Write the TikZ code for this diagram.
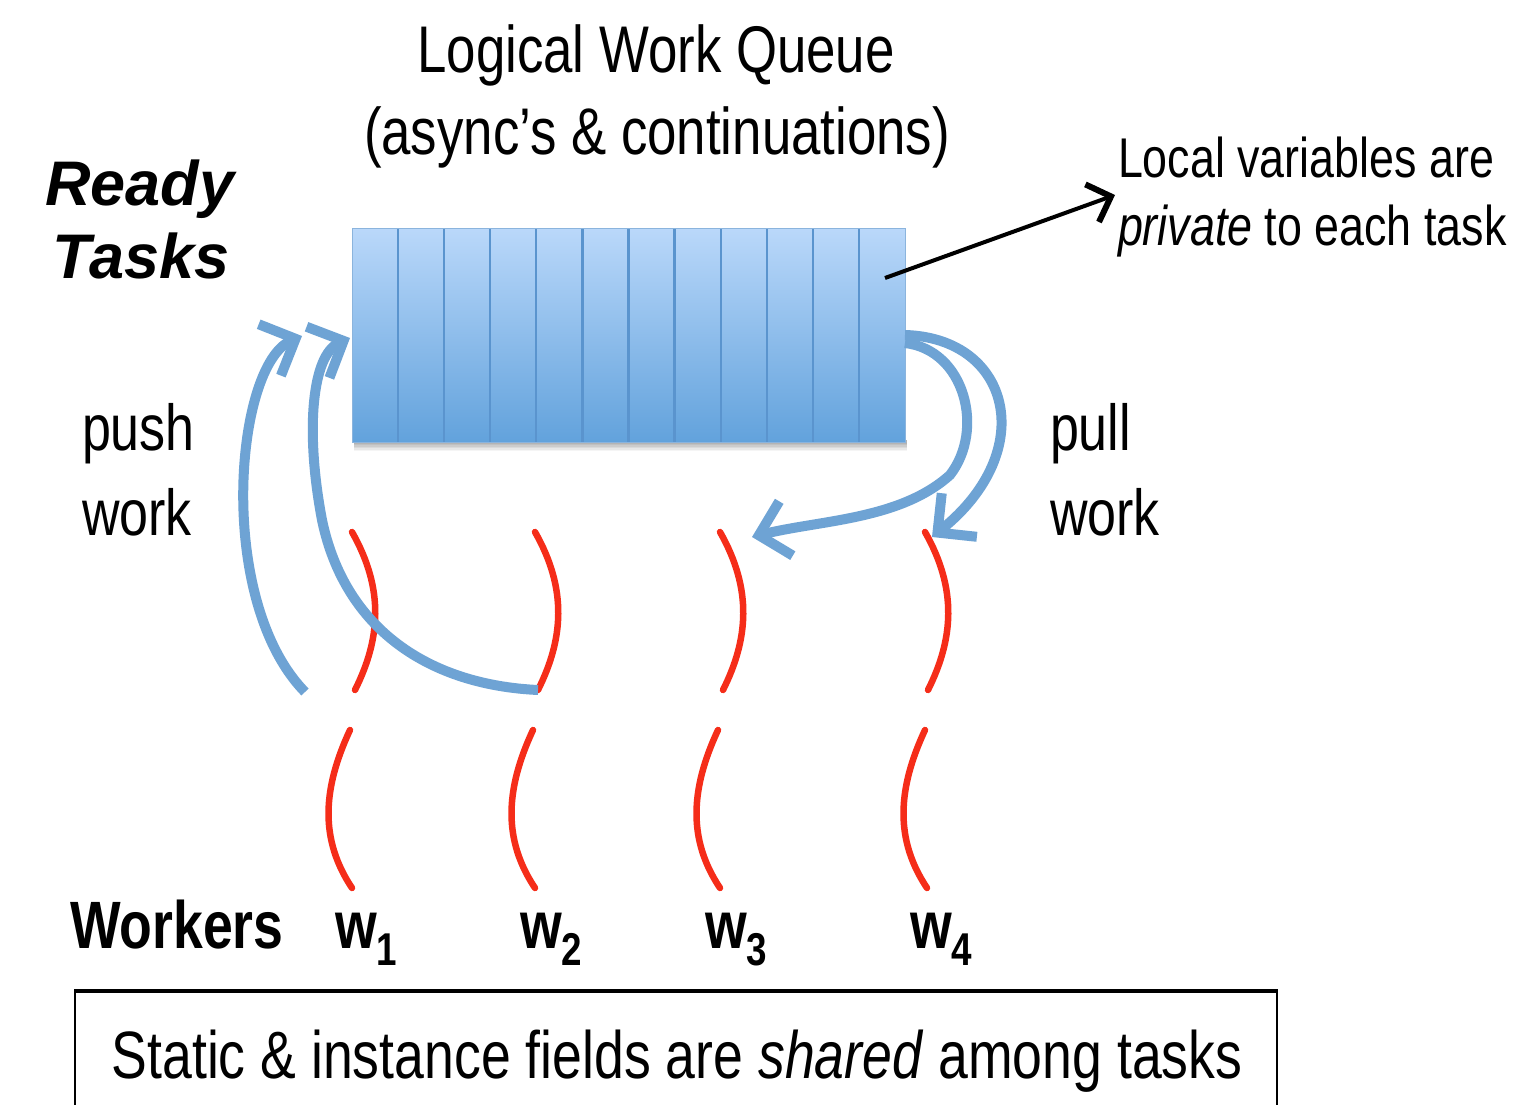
\documentclass[tikz,border=0pt]{standalone}
\usepackage{fontspec}
\setmainfont{Liberation Sans}[FakeStretch=0.8]
\newfontfamily\widefont{Liberation Sans}
\usetikzlibrary{arrows.meta,calc}
\definecolor{qblue}{RGB}{110,163,212}
\definecolor{qtop}{RGB}{186,216,250}
\definecolor{qbot}{RGB}{98,162,220}
\definecolor{qdiv}{RGB}{90,148,206}
\definecolor{wred}{RGB}{245,45,25}
\newcommand{\fs}[1]{\fontsize{#1}{#1}\selectfont}
\begin{document}
\begin{tikzpicture}[x=1pt,y=-1pt,
  txt/.style={inner sep=0pt, outer sep=0pt},
  flow/.style={draw=qblue, line width=10pt, -{Straight Barb[length=28pt,width=56pt]}},
  thread/.style={draw=wred, line width=6.5pt, line cap=round},
]
\useasboundingbox[fill=white] (0,0) rectangle (1527,1105);

% ---------- worker threads ----------
\foreach \n/\xt/\xb in {1/352/350, 2/535/533, 3/720/718, 4/925/925}{
  \coordinate (w\n a) at (\xt,532);
  \coordinate (w\n b) at (\xt+3,690);
  \coordinate (w\n c) at (\xb,730);
  \coordinate (w\n d) at (\xb+2,888);
}
\foreach \n in {1,2,3,4}{
  \draw[thread] (w\n a) .. controls ($(w\n a)+(33,58)$) and ($(w\n a)+(28,108)$) .. (w\n b);
  \draw[thread] (w\n c) .. controls ($(w\n c)+(-28,60)$) and ($(w\n c)+(-30,110)$) .. (w\n d);
}

% ---------- queue ----------
\node[txt, minimum width=553pt, minimum height=214pt, anchor=north west] (queue) at (352,228) {};
% soft shadow below the queue
\foreach \k/\o in {1/0.06,2/0.06,3/0.06,4/0.06,5/0.05,6/0.04}{
  \fill[black, opacity=\o] ($(queue.south west)+(2,-2)$) rectangle ($(queue.south east)+(2,\k*1.5)$);
}

% ---------- push arrows ----------
\coordinate (pushsrc) at (305,692);
\coordinate (pushtipA) at (302,336);
\coordinate (pushtipB) at (350,338);
\draw[flow] (pushsrc) .. controls (215,600) and (235,365) .. (pushtipA);
\draw[flow] (w2b) .. controls (430,685) and (345,630) .. (322,520)
                  .. controls (305,430) and (312,355) .. (pushtipB);

% queue drawn on top of the arrow heads
\shade[top color=qtop, bottom color=qbot] (queue.north west) rectangle (queue.south east);
\foreach \i in {1,...,11}{
  \pgfmathsetmacro\xx{352+\i*46.08}
  \draw[qdiv, line width=2.2pt] (\xx,228) -- (\xx,442);
}
\draw[qdiv!70, line width=1pt] (queue.north west) rectangle (queue.south east);

% ---------- pull arrows ----------
\coordinate (pulltipA) at (752,537);
\coordinate (pulltipB) at (932,537);
\draw[flow] ([yshift=-8pt]queue.east) .. controls (965,350) and (985,430) .. (950,475)
            .. controls (900,520) and (820,520) .. (pulltipA);
\draw[flow] ([yshift=0pt]queue.east) .. controls (1010,338) and (1040,450) .. (pulltipB);

% ---------- texts ----------
\node[txt, anchor=base] (title1) at (656,73) {\fs{66}Logical Work Queue};
\node[txt, anchor=base] (title2) at (657,155) {\fs{66}(async’s \& continuations)};

\node[txt, anchor=base] (ready) at (140,205) {\widefont\fs{63}\bfseries\itshape Ready};
\node[txt, anchor=base] (tasks) at (141,278) {\widefont\fs{63}\bfseries\itshape Tasks};

\node[txt, anchor=base west] (local1) at (1118,178) {\fs{56}Local variables are};
\node[txt, anchor=base west] (local2) at (1118,245) {\fs{56}\textit{private} to each task};

\coordinate (qcell) at (885,278);
\coordinate (localtip) at (1115,195);
\draw[line width=4pt, -{Straight Barb[length=20pt,width=40pt,line width=6pt]}] (qcell) -- (localtip);

\node[txt, anchor=base west] (push1) at (82,450) {\fs{65}push};
\node[txt, anchor=base west] (push2) at (82,535) {\fs{65}work};
\node[txt, anchor=base west] (pull1) at (1050,450) {\fs{65}pull};
\node[txt, anchor=base west] (pull2) at (1050,535) {\fs{65}work};

\node[txt, anchor=base west] (workers) at (70,948) {\fs{67}\bfseries Workers};
\foreach \n/\x in {1/335, 2/520, 3/705, 4/910}{
  \node[txt, anchor=base west] (lw\n) at (\x,948) {\fs{67}\bfseries w\raisebox{-17pt}{\fs{46}\n}};
}

% ---------- shared box ----------
\draw[line width=2.5pt] (75,1110) -- (75,990) -- (1277,990) -- (1277,1110);
\draw[line width=4pt] (75,991) -- (1277,991);
\node[txt, anchor=base] (shared) at (677,1078) {\fs{67}Static \& instance fields are \textit{shared} among tasks};
\end{tikzpicture}
\end{document}
